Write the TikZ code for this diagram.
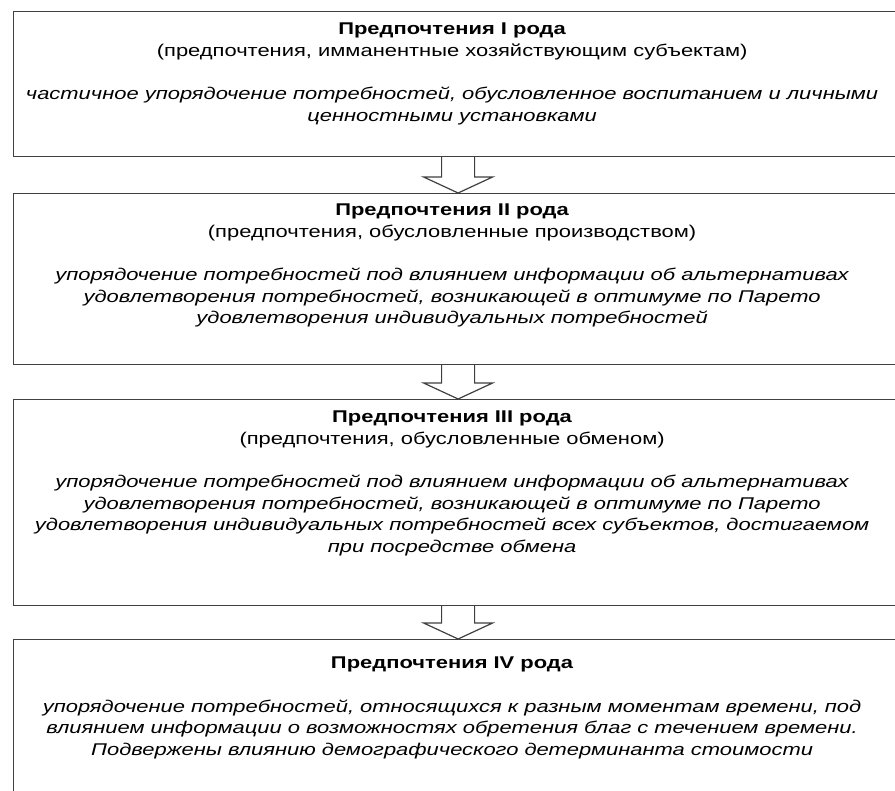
\documentclass[tikz,border=0pt]{standalone}
\usepackage{fontspec}
\setmainfont{Liberation Sans}[FakeStretch=1.29]
\usetikzlibrary{positioning,calc}
\tikzset{
  box/.style={draw=black!75, line width=1.2pt, minimum width=889pt, inner sep=0pt, anchor=north west},
  txt/.style={align=center, inner sep=0pt, anchor=north, font=\fontsize{17}{21.6}\selectfont},
  hollow/.style={draw=black!75, line width=1.2pt, fill=white, line join=miter},
}
\begin{document}
\begin{tikzpicture}[x=1pt,y=-1pt]
\useasboundingbox (0,0) rectangle (895,791);
\clip (0,0) rectangle (895,791);
\node[box, minimum height=145pt] (b1) at (13,11) {};
\node[box, minimum height=171pt] (b2) at (13,193) {};
\node[box, minimum height=206pt] (b3) at (13,399) {};
\node[box, minimum height=200pt] (b4) at (13,639) {};
\foreach \a/\b in {b1/b2,b2/b3,b3/b4}{
  \draw[hollow] ($(\a.south)+(-16.5,0)$) -- ($(\b.north)+(-16.5,-16)$) -- ($(\b.north)+(-34.5,-16)$) -- (\b.north) -- ($(\b.north)+(34.5,-16)$) -- ($(\b.north)+(16.5,-16)$) -- ($(\a.south)+(16.5,0)$);
}
\node[txt] (t1) at ($(b1.north)+(-6,12)$) {\textbf{Предпочтения I рода}\\(предпочтения, имманентные хозяйствующим субъектам)\\[21.6pt]
  \itshape частичное упорядочение потребностей, обусловленное воспитанием и личными\\\itshape ценностными установками};
\node[txt] (t2) at ($(b2.north)+(-6,11)$) {\textbf{Предпочтения II рода}\\(предпочтения, обусловленные производством)\\[21.6pt]
  \itshape упорядочение потребностей под влиянием информации об альтернативах\\\itshape удовлетворения потребностей, возникающей в оптимуме по Парето\\\itshape удовлетворения индивидуальных потребностей};
\node[txt] (t3) at ($(b3.north)+(-6,12)$) {\textbf{Предпочтения III рода}\\(предпочтения, обусловленные обменом)\\[21.6pt]
  \itshape упорядочение потребностей под влиянием информации об альтернативах\\\itshape удовлетворения потребностей, возникающей в оптимуме по Парето\\\itshape удовлетворения индивидуальных потребностей всех субъектов, достигаемом\\\itshape при посредстве обмена};
\node[txt] (t4) at ($(b4.north)+(-6,18)$) {\textbf{Предпочтения IV рода}\\[21.6pt]
  \itshape упорядочение потребностей, относящихся к разным моментам времени, под\\\itshape влиянием информации о возможностях обретения благ с течением времени.\\\itshape Подвержены влиянию демографического детерминанта стоимости};
\end{tikzpicture}
\end{document}
